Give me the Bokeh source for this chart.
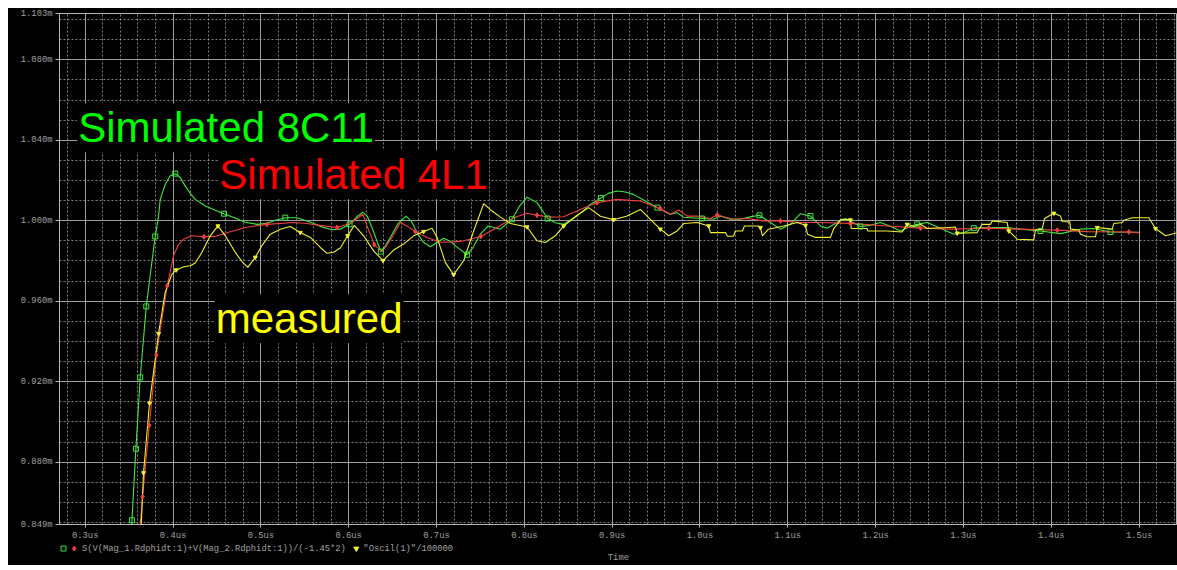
import numpy as np
from bokeh.plotting import figure
from bokeh.layouts import column
from bokeh.models import FixedTicker, Label, Range1d, CustomJSTickFormatter
from bokeh.core.properties import value
from bokeh.embed import file_html
from bokeh.resources import INLINE

# ---------------- data (time in us, value in "m" units) ----------------
green_t = [0.3518,0.3532,0.3577,0.3626,0.3695,0.3746,0.3797,0.3835,0.3854,0.3911,0.3968,0.4025,0.4082,0.4139,
           0.4196,0.4253,0.4367,0.4481,0.4580,0.4708,0.4822,0.4956,0.5070,0.5164,0.5278,0.5411,0.5525,0.5597,
           0.5699,0.5813,0.5904,0.6010,0.6087,0.6161,0.6212,0.6280,0.6366,0.6417,0.6474,0.6565,0.6653,0.6713,
           0.6778,0.6850,0.6930,0.7009,0.7081,0.7157,0.7234,0.7348,0.7419,0.7499,0.7590,0.7727,0.7860,0.7943,
           0.8031,0.8145,0.8266,0.8353,0.8448,0.8600,0.8752,0.8872,0.8957,0.9056,0.9151,0.9242,0.9378,0.9515,
           0.9663,0.9739,0.9811,1.0024,1.0153,1.0233,1.0347,1.0460,1.0574,1.0677,1.0802,1.0916,1.1030,1.1144,
           1.1258,1.1372,1.1448,1.1562,1.1656,1.1827,1.1941,1.2055,1.2169,1.2283,1.2397,1.2473,1.2587,1.2738,
           1.2890,1.3004,1.3118,1.3308,1.3498,1.3650,1.3877,1.4105,1.4333,1.4481,1.4675,1.5000]
green_v = [0.8401,0.8511,0.8867,0.9221,0.9574,0.9750,0.9922,1.0023,1.0106,1.0180,1.0224,1.0234,1.0215,1.0172,
           1.0136,1.0106,1.0073,1.0052,1.0035,1.0014,0.9992,0.9982,0.9987,1.0002,1.0015,1.0015,0.9999,0.9987,
           0.9968,0.9955,0.9958,0.9982,1.0017,1.0043,1.0022,0.9949,0.9846,0.9874,0.9917,0.9987,1.0023,0.9997,
           0.9941,0.9893,0.9871,0.9893,0.9913,0.9898,0.9869,0.9831,0.9869,0.9933,0.9974,0.9958,1.0007,1.0071,
           1.0117,1.0090,1.0011,0.9990,0.9982,1.0023,1.0081,1.0113,1.0136,1.0148,1.0143,1.0131,1.0098,1.0065,
           1.0032,1.0040,1.0017,1.0011,1.0007,1.0023,1.0007,1.0007,1.0019,1.0027,0.9991,0.9958,0.9982,1.0035,
           1.0023,0.9974,0.9963,0.9991,1.0011,0.9971,0.9977,0.9991,0.9972,0.9949,0.9972,0.9982,0.9991,0.9963,
           0.9933,0.9941,0.9963,0.9966,0.9966,0.9958,0.9949,0.9936,0.9958,0.9961,0.9944,0.9943]
green_marks = [1,2,3,4,6,11,18,24,31,36,49,54,58,63,69,73,79,84,89,95,100,104,108]

red_t = [0.3609,0.3653,0.3729,0.3809,0.3934,0.4006,0.4059,0.4120,0.4215,0.4352,0.4481,0.4595,0.4822,0.5070,
         0.5369,0.5525,0.5677,0.5867,0.6018,0.6098,0.6161,0.6223,0.6292,0.6379,0.6428,0.6493,0.6588,0.6668,
         0.6759,0.6892,0.7043,0.7192,0.7309,0.7505,0.7689,0.7878,0.8031,0.8145,0.8296,0.8448,0.8638,0.8828,
         0.9056,0.9208,0.9321,0.9549,0.9663,0.9758,0.9853,0.9967,1.0119,1.0195,1.0381,1.0537,1.0726,1.0916,
         1.1144,1.1372,1.1713,1.2131,1.2511,1.2890,1.3289,1.3650,1.4068,1.4409,1.4883,1.5000]
red_v = [0.8401,0.8628,0.8983,0.9332,0.9677,0.9826,0.9879,0.9908,0.9925,0.9920,0.9922,0.9938,0.9966,0.9982,
         0.9991,0.9986,0.9977,0.9966,0.9986,1.0012,1.0032,0.9958,0.9881,0.9846,0.9874,0.9917,0.9991,0.9972,
         0.9946,0.9917,0.9893,0.9895,0.9900,0.9922,0.9966,1.0015,1.0037,1.0027,1.0018,1.0020,1.0056,1.0090,
         1.0106,1.0101,1.0098,1.0060,1.0032,1.0053,1.0023,1.0023,1.0011,1.0028,1.0007,1.0011,0.9999,0.9999,
         0.9991,0.9991,0.9987,0.9974,0.9963,0.9958,0.9963,0.9958,0.9953,0.9946,0.9944,0.9941]
red_marks = [1,2,3,4,9,13,17,22,28,33,37,41,45,51,55,58,60,62,64,66]

yel_t = [0.3621,0.3638,0.3664,0.3732,0.3835,0.3911,0.3988,0.4036,0.4116,0.4196,0.4253,0.4329,0.4424,0.4511,
         0.4595,0.4708,0.4788,0.4851,0.4936,0.5016,0.5107,0.5221,0.5335,0.5449,0.5563,0.5677,0.5753,0.5828,
         0.5904,0.5988,0.6064,0.6170,0.6284,0.6391,0.6512,0.6625,0.6739,0.6853,0.6949,0.7006,0.7100,0.7195,
         0.7309,0.7423,0.7537,0.7632,0.7727,0.7841,0.8031,0.8145,0.8239,0.8353,0.8448,0.8600,0.8733,0.8866,
         0.9017,0.9170,0.9321,0.9435,0.9549,0.9644,0.9739,0.9815,0.9967,1.0099,1.0119,1.0290,1.0312,1.0381,
         1.0403,1.0483,1.0506,1.0665,1.0688,1.0711,1.0779,1.0954,1.1106,1.1201,1.1224,1.1315,1.1486,1.1523,
         1.1607,1.1713,1.1721,1.1904,1.1910,1.2131,1.2302,1.2359,1.2434,1.2511,1.2587,1.2815,1.2909,1.2929,
         1.3156,1.3213,1.3308,1.3327,1.3498,1.3516,1.3612,1.3801,1.3820,1.3897,1.3923,1.4029,1.4105,1.4125,
         1.4211,1.4219,1.4314,1.4333,1.4409,1.4504,1.4523,1.4694,1.4712,1.4808,1.4826,1.4922,1.5111,1.5187,
         1.5301,1.5438]
yel_v = [0.8401,0.8491,0.8747,0.9093,0.9439,0.9645,0.9735,0.9755,0.9770,0.9776,0.9790,0.9843,0.9925,0.9974,
         0.9925,0.9843,0.9795,0.9768,0.9818,0.9879,0.9933,0.9958,0.9971,0.9941,0.9917,0.9867,0.9838,0.9843,
         0.9864,0.9925,0.9977,0.9925,0.9850,0.9802,0.9854,0.9884,0.9925,0.9946,0.9963,0.9917,0.9793,0.9732,
         0.9801,0.9949,1.0085,1.0048,1.0018,0.9986,0.9969,0.9900,0.9892,0.9925,0.9974,1.0027,1.0065,1.0022,
         1.0005,1.0023,1.0056,1.0007,0.9958,0.9925,0.9949,0.9986,0.9991,0.9974,0.9941,0.9941,0.9923,0.9923,
         0.9949,0.9949,0.9974,0.9974,0.9966,0.9925,0.9958,0.9974,0.9991,0.9977,0.9933,0.9917,0.9917,0.9961,
         1.0007,1.0004,0.9961,0.9961,0.9949,0.9949,0.9944,0.9982,0.9971,0.9982,0.9961,0.9966,0.9969,0.9938,
         0.9941,0.9982,0.9982,0.9999,0.9991,0.9949,0.9908,0.9905,0.9954,0.9958,1.0011,1.0037,1.0023,0.9996,
         0.9994,0.9958,0.9954,0.9933,0.9920,0.9920,0.9966,0.9958,0.9986,0.9991,1.0002,1.0015,1.0015,0.9961,
         0.9925,0.9941]
yel_marks = [2,3,4,7,13,18,23,29,33,37,41,48,52,56,60,65,74,79,85,91,97,103,109,118,125]

x_ticks = [0.3, 0.4, 0.5, 0.6, 0.7, 0.8, 0.9, 1.0, 1.1, 1.2, 1.3, 1.4, 1.5]
x_minor = [round(0.28 + 0.02 * i, 2) for i in range(64)]
y_ticks = [0.849, 0.880, 0.920, 0.960, 1.000, 1.040, 1.080, 1.103]
y_minor = [round(0.85 + 0.01 * i, 2) for i in range(26)]

legend_texts = ["S(V(Mag_1.Rdphidt:1)+V(Mag_2.Rdphidt:1))/(-1.45*2)", '"Oscil(1)"/100000']
legend_text_t = [0.2962, 0.6167]
legend_mark_t = [0.2753, 0.2875, 0.6087]
x_title = "Time"
x_title_t = 0.9071

GREEN, RED, YEL = "#3ee83e", "#f04040", "#f2f230"
GRID = "#a8a8a8"
TXT = "#a0a0a0"
MONO = "Liberation Mono"
SANS = "Liberation Sans"

p = figure(width=1169, height=535, output_backend="svg", toolbar_location=None,
           x_range=Range1d(0.2707, 1.5426), y_range=Range1d(0.849, 1.103),
           background_fill_color="black", border_fill_color="black",
           min_border_left=51, min_border_right=1, min_border_top=5, min_border_bottom=16)
p.outline_line_color = "#b8b8b8"

xt = FixedTicker(ticks=x_ticks, minor_ticks=x_minor)
yt = FixedTicker(ticks=y_ticks, minor_ticks=y_minor)
p.xaxis.ticker = xt
p.yaxis.ticker = yt
p.xgrid.ticker = xt
p.ygrid.ticker = yt
p.xaxis.formatter = CustomJSTickFormatter(code="return tick.toFixed(1) + 'us';")
p.yaxis.formatter = CustomJSTickFormatter(code="return tick.toFixed(3) + 'm';")

for g in (p.xgrid, p.ygrid):
    g.grid_line_color = GRID
    g.grid_line_alpha = 0.9
    g.minor_grid_line_color = GRID
    g.minor_grid_line_alpha = 0.75
    g.minor_grid_line_dash = "2 2"

for ax in (p.xaxis, p.yaxis):
    ax.axis_line_color = "#b8b8b8"
    ax.major_tick_line_color = "#b8b8b8"
    ax.major_tick_in = 0
    ax.minor_tick_line_color = None
    ax.major_label_text_font = MONO
    ax.major_label_text_font_size = "8.8px"
    ax.major_label_text_color = TXT
p.yaxis.major_tick_out = 4
p.xaxis.major_tick_out = 3
p.yaxis.major_label_standoff = 3
p.xaxis.major_label_standoff = 2

gt, gv = np.array(green_t), np.array(green_v)
rt, rv = np.array(red_t), np.array(red_v)
yt_, yv = np.array(yel_t), np.array(yel_v)

p.line(gt, gv, line_color=GREEN, line_width=1.1)
p.line(rt, rv, line_color=RED, line_width=1.1)
p.line(yt_, yv, line_color=YEL, line_width=1.1)
p.scatter(gt[green_marks], gv[green_marks], marker="square", size=5, fill_color=None,
          line_color=GREEN, line_width=1)
p.scatter(rt[red_marks], rv[red_marks], marker="diamond", size=5, fill_color=RED, line_color=RED)
p.scatter(yt_[yel_marks], yv[yel_marks], marker="inverted_triangle", size=4, fill_color=YEL,
          line_color=YEL)

for txt, col, xx, yy in (("Simulated 8C11", "#00ff00", 0.2909, 1.0462),
                         ("Simulated 4L1", "#ff0000", 0.4515, 1.0229),
                         ("measured", "#ffff00", 0.4475, 0.9513)):
    p.add_layout(Label(x=xx, y=yy, text=txt, text_color=col, text_font=SANS, text_font_size="42px",
                       text_baseline="alphabetic", background_fill_color="black", padding=1))

# ---- strip below the plot: trace legend and axis title, sharing the time axis ----
q = figure(width=1169, height=22, output_backend="svg", toolbar_location=None,
           x_range=p.x_range, y_range=Range1d(0, 1),
           background_fill_color="black", border_fill_color="black",
           min_border_left=51, min_border_right=1, min_border_top=0, min_border_bottom=0,
           x_axis_location=None, y_axis_location=None)
q.outline_line_color = None
q.grid.visible = False
LEG_Y = 0.77
q.scatter([legend_mark_t[0]], [LEG_Y], marker="square", size=5, fill_color=None, line_color=GREEN)
q.scatter([legend_mark_t[1]], [LEG_Y], marker="diamond", size=5, fill_color=RED, line_color=RED)
q.scatter([legend_mark_t[2]], [LEG_Y], marker="inverted_triangle", size=5, fill_color=YEL, line_color=YEL)
q.text(x=legend_text_t, y=[LEG_Y, LEG_Y], text=legend_texts, text_color=TXT, text_font=value(MONO),
       text_font_size="8.8px", text_baseline="middle")
q.text(x=[x_title_t], y=[0.34], text=[x_title], text_color=TXT, text_font=value(MONO),
       text_font_size="8.8px", text_baseline="middle", text_align="center")

layout = column(p, q, spacing=0)
layout.margin = (8, 0, 0, 8)
layout.styles = {"background-color": "black"}

open("out.html", "w").write(file_html(layout, INLINE))
